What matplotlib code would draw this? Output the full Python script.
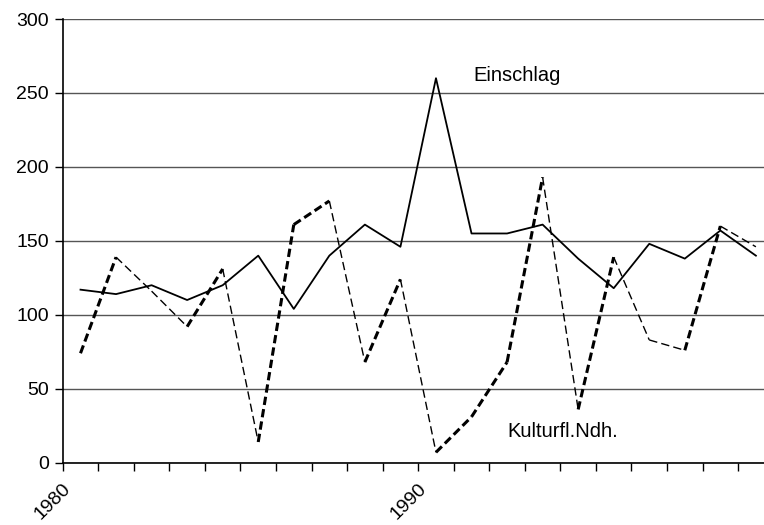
import numpy as np
from matplotlib import pyplot as plt

""" Data """
years = np.arange(1980, 2000)
einschlag = [117, 114, 120, 110, 120, 140, 104, 140, 161, 146,
             260, 155, 155, 161, 138, 118, 148, 138, 157, 140]
kulturfl = [74, 139, 116, 92, 131, 14, 161, 177, 68, 124,
            7, 31, 68, 193, 36, 139, 83, 76, 160, 146]
yticks = [0, 50, 100, 150, 200, 250, 300]
xlabels = {1980: '1980', 1990: '1990'}

plt.rcParams['font.family'] = ['Liberation Sans', 'DejaVu Sans']
plt.rcParams['lines.scale_dashes'] = False

fig = plt.figure(figsize=(7.64, 5.25), dpi=100)
ax = fig.add_axes([0.0821, 0.1187, 0.918, 0.845])

# gridlines
for v in yticks:
    ax.axhline(v, color='#555555', lw=1.0, zorder=1)

# Einschlag (solid)
ax.plot(years, einschlag, color='black', lw=1.3, zorder=3)

# Kulturfl. Ndh. (dashed, rising segments drawn heavier)
for i in range(len(years) - 1):
    rising = kulturfl[i + 1] > kulturfl[i]
    ax.plot(years[i:i + 2], kulturfl[i:i + 2], color='black',
            lw=2.2 if rising else 1.0, linestyle=(0, (6, 3)), zorder=2)

ax.text(1991.05, 262, 'Einschlag', fontsize=14.5, va='center', ha='left')
ax.text(1992.0, 21, 'Kulturfl.Ndh.', fontsize=14.5, va='center', ha='left')

ax.set_xlim(1979.5, 1999.23)
ax.set_ylim(0, 300)
ax.set_yticks(yticks)
ax.tick_params(axis='y', labelsize=14, length=6, width=1, direction='out', pad=4)

# category tick marks between years, labels only at 1980 and 1990
ax.set_xticks(np.arange(1979.5, 1999.5, 1.0))
ax.set_xticklabels([])
ax.tick_params(axis='x', length=6, width=1, direction='out')
for yr, lab in xlabels.items():
    ax.text(yr - 0.52, -12, lab, fontsize=14, rotation=45,
            ha='right', va='top', rotation_mode='anchor')

for s in ['top', 'right']:
    ax.spines[s].set_visible(False)
for s in ['left', 'bottom']:
    ax.spines[s].set_linewidth(1.2)
    ax.spines[s].set_zorder(4)

plt.savefig('out.png', dpi=100)
